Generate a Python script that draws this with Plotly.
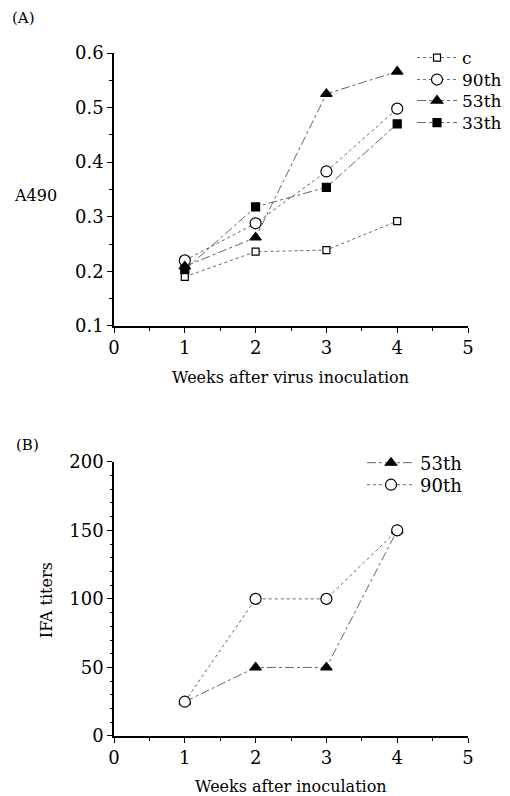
import plotly.graph_objects as go

weeks = [1, 2, 3, 4]
a_c = [0.19, 0.236, 0.239, 0.292]
a_90 = [0.22, 0.288, 0.383, 0.498]
a_53 = [0.209, 0.262, 0.525, 0.566]
a_33 = [0.203, 0.318, 0.354, 0.470]

b_53 = [25, 50, 50, 150]
b_90 = [25, 100, 100, 150]

SERIF = "DejaVu Serif, Liberation Serif, serif"
LC = "#666666"
OFF = 8  # page body margin
W, H = 510 - OFF, 796 - OFF
# plot area in screenshot pixels
L_PX, R_PX, T_PX, B_PX = 114, 468, 53.3, 735.7
ML, MR, MT, MB = L_PX - OFF, 510 - R_PX, T_PX - OFF, 796 - B_PX
PW, PH = W - ML - MR, H - MT - MB

def ydom(top_px, bot_px):
    return [(B_PX - bot_px) / (B_PX - T_PX), (B_PX - top_px) / (B_PX - T_PX)]

fig = go.Figure()

def tr(y, name, symbol, size, fill, dash, xa, ya, leg):
    fig.add_trace(go.Scatter(
        x=weeks, y=y, name=name, mode="lines+markers",
        line=dict(color=LC, width=1.0, dash=dash),
        marker=dict(symbol=symbol, size=size, color=fill,
                    line=dict(color="black", width=1.2)),
        xaxis=xa, yaxis=ya, legend=leg))

tr(a_c, "c", "square", 7, "white", "dot", "x", "y", "legend")
tr(a_90, "90th", "circle", 11, "white", "dot", "x", "y", "legend2")
tr(a_53, "53th", "triangle-up", 10, "black", "dashdot", "x", "y", "legend3")
tr(a_33, "33th", "square", 8, "black", "dashdot", "x", "y", "legend4")

tr(b_53, "53th", "triangle-up", 10, "black", "dashdot", "x2", "y2", "legend5")
tr(b_90, "90th", "circle", 11, "white", "dot", "x2", "y2", "legend6")

axis_common = dict(
    showgrid=False, zeroline=False, showline=True, linecolor="black",
    linewidth=1.5, ticks="outside", ticklen=5, tickwidth=1.2, tickcolor="black",
    tickfont=dict(family=SERIF, size=18, color="black"),
)

def leg(x_px, y_px, iw, fs):
    return dict(x=(x_px - OFF) / W, y=1 - (y_px - OFF) / H,
                xanchor="left", yanchor="middle",
                xref="container", yref="container",
                font=dict(family=SERIF, size=fs, color="black"),
                bgcolor="rgba(0,0,0,0)", itemwidth=iw)

fig.update_layout(
    width=W, height=H,
    paper_bgcolor="white", plot_bgcolor="white",
    margin=dict(l=ML, r=MR, t=MT, b=MB, autoexpand=False),
    font=dict(family=SERIF, color="black"),
    xaxis=dict(domain=[0, 1], anchor="y", range=[0, 5], dtick=1,
               minor=dict(dtick=0.5, ticks="outside", ticklen=3, tickcolor="black"),
               **axis_common),
    yaxis=dict(domain=ydom(53.3, 326), anchor="x", range=[0.1, 0.6], dtick=0.1,
               tickformat=".1f",
               minor=dict(dtick=0.05, ticks="outside", ticklen=3, tickcolor="black"),
               **axis_common),
    xaxis2=dict(domain=[0, 1], anchor="y2", range=[0, 5], dtick=1,
                minor=dict(dtick=0.5, ticks="outside", ticklen=3, tickcolor="black"),
                **axis_common),
    yaxis2=dict(domain=ydom(461.7, 735.7), anchor="x2", range=[0, 200], dtick=50,
                minor=dict(dtick=10, ticks="outside", ticklen=2, tickcolor="black"),
                **axis_common),
    legend=leg(412, 58, 40, 17),
    legend2=leg(412, 80, 40, 17),
    legend3=leg(412, 101, 40, 17),
    legend4=leg(412, 123, 40, 17),
    legend5=leg(362, 463, 48, 18),
    legend6=leg(362, 485, 48, 18),
    showlegend=True,
)

ann = [
    ("(A)", 10, 18, 15, 0, "left"),
    ("A490", 35, 196, 16, 0, "center"),
    ("Weeks after virus inoculation", 290, 378, 16, 0, "center"),
    ("(B)", 14, 445, 15, 0, "left"),
    ("IFA titers", 46, 600, 16, -90, "center"),
    ("Weeks after inoculation", 291, 786, 16, 0, "center"),
]
for text, x, y, size, ang, xa in ann:
    fig.add_annotation(
        text=text, x=(x - L_PX) / PW, y=(B_PX - y) / PH,
        xref="paper", yref="paper", showarrow=False,
        xanchor=xa, yanchor="middle", textangle=ang,
        font=dict(family=SERIF, size=size, color="black"),
    )

fig.write_html("out.html")
